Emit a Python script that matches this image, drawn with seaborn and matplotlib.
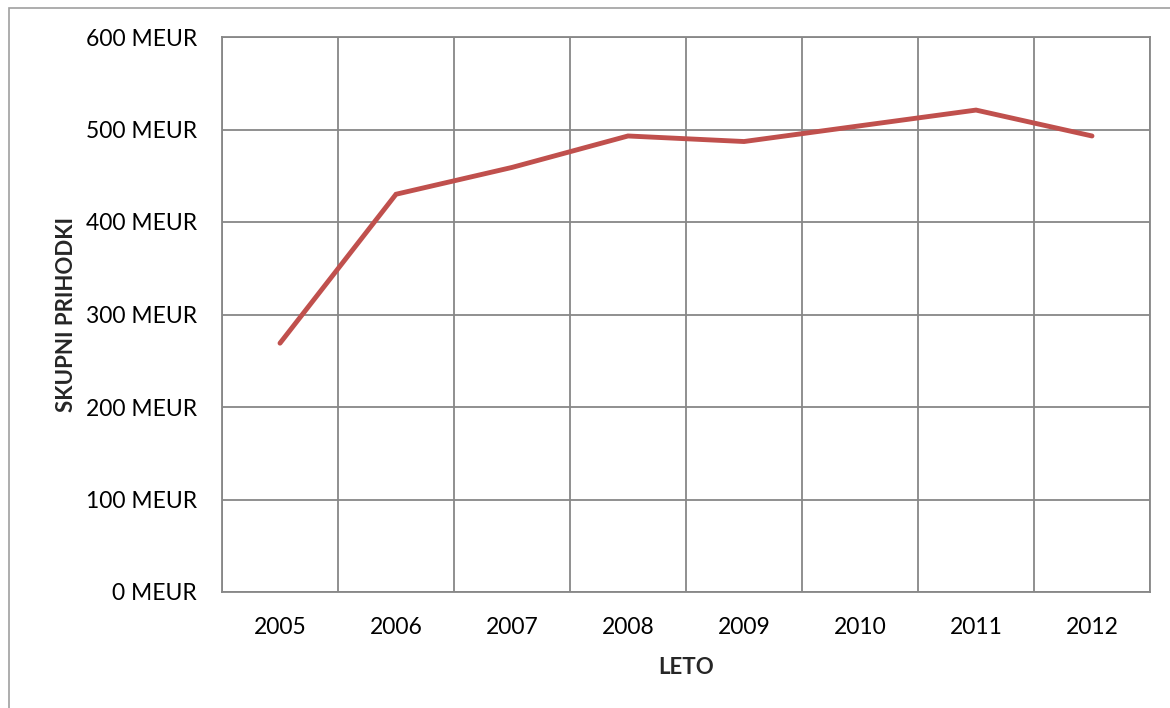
import matplotlib
matplotlib.use("Agg")
import matplotlib.pyplot as plt
import numpy as np
import pandas as pd
import seaborn as sns
from matplotlib.patches import Rectangle

years = ["2005", "2006", "2007", "2008", "2009", "2010", "2011", "2012"]
revenue = [269, 430, 459, 493, 487, 504, 521, 493]
y_ticks = [0, 100, 200, 300, 400, 500, 600]
y_tick_labels = [f"{v} MEUR" for v in y_ticks]

sns.set_theme(style="white")
plt.rcParams["font.family"] = ["Lato", "DejaVu Sans"]

df = pd.DataFrame({"pos": np.arange(len(years)), "revenue": revenue})

fig = plt.figure(figsize=(11.7, 7.08), dpi=100)
ax = fig.add_axes([222 / 1170, 1 - 592 / 708, 928 / 1170, 555 / 708])

grid_c = "#878787"
sns.lineplot(data=df, x="pos", y="revenue", ax=ax, color="#C0504D",
             linewidth=3.5, solid_capstyle="round", solid_joinstyle="miter")

ax.set_xlim(-0.5, len(years) - 0.5)
ax.set_ylim(0, 600)
ax.set_yticks(y_ticks)
ax.set_yticklabels(y_tick_labels)
ax.set_xticks(np.arange(len(years)))
ax.set_xticklabels(years)
ax.set_xticks(np.arange(len(years) + 1) - 0.5, minor=True)

ax.grid(True, which="major", axis="y", color=grid_c, linewidth=1.3)
ax.grid(True, which="minor", axis="x", color=grid_c, linewidth=1.3)
ax.grid(False, which="major", axis="x")
ax.set_axisbelow(True)
for s in ax.spines.values():
    s.set_color(grid_c)
    s.set_linewidth(1.3)

ax.tick_params(axis="both", which="both", length=0, labelsize=16.5, colors="black")
ax.tick_params(axis="x", pad=18)
ax.tick_params(axis="y", pad=18)

ax.set_xlabel("LETO", fontsize=16, fontweight="bold", labelpad=14)
ax.set_ylabel("SKUPNI PRIHODKI", fontsize=16, fontweight="bold", labelpad=6)

# chart-area frame
fig.patches.append(Rectangle((9 / 1170, -0.05), 1.2, 1 - 8 / 708 + 0.05,
                             transform=fig.transFigure, fill=False,
                             edgecolor="#A0A0A0", linewidth=1.2))

fig.savefig("out.png", dpi=100)
